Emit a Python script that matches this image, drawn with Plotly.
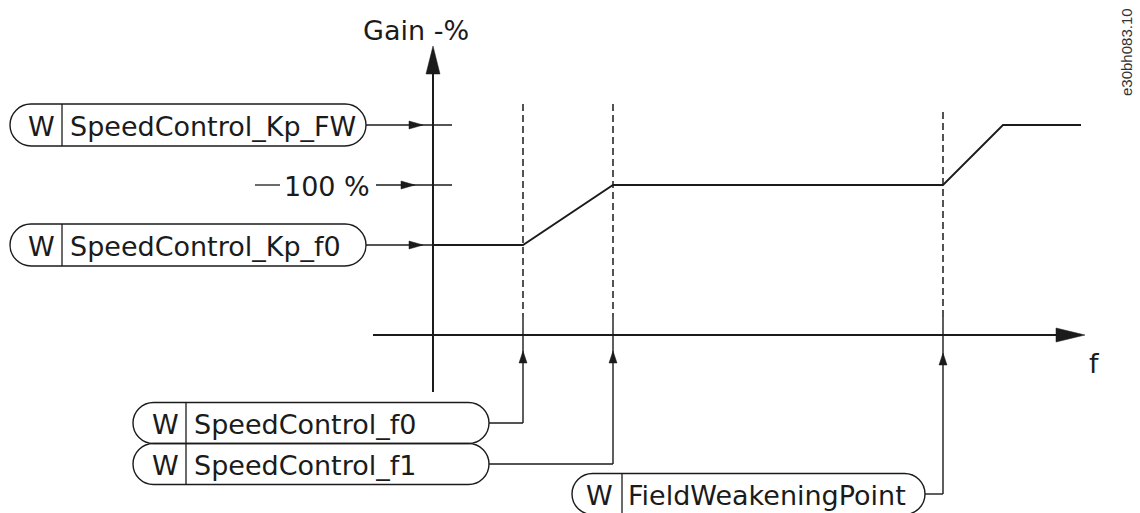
import plotly.graph_objects as go

# ---------------- data ----------------
f_knots = [0, 15, 30, 85, 95, 108]            # frequency (arbitrary units)
gain_knots = [60, 60, 100, 100, 140, 140]     # gain in %

level_labels = ["SpeedControl_Kp_FW", "100 %", "SpeedControl_Kp_f0"]
level_values = [140, 100, 60]

freq_labels = ["SpeedControl_f0", "SpeedControl_f1", "FieldWeakeningPoint"]
freq_values = [15, 30, 85]

axis_title_y = "Gain -%"
axis_title_x = "f"
doc_code = "e30bh083.10"

# ---------------- scale (pixels <-> data) ----------------
W, H = 1140, 513
X0, Y0 = 433, 335          # pixel position of origin (f=0, gain=0)
PXF, PXG = 6.0, 1.5        # pixels per data unit

def fx(px):
    return (px - X0) / PXF

def gy(py):
    return (Y0 - py) / PXG

def xpx(f):
    return X0 + f * PXF

def ypx(g):
    return Y0 - g * PXG

INK = "#1b1b1b"
FONT = "DejaVu Sans"
FS = 27

shapes = []
annotations = []

def line_px(x0, y0, x1, y1, width=1.4, dash=None):
    ln = dict(color=INK, width=width)
    if dash:
        ln["dash"] = dash
    shapes.append(dict(type="line", xref="x", yref="y",
                       x0=fx(x0), y0=gy(y0), x1=fx(x1), y1=gy(y1), line=ln,
                       layer="above"))

def poly_px(pts):
    d = "M " + " L ".join(f"{fx(px):.4f},{gy(py):.4f}" for px, py in pts) + " Z"
    shapes.append(dict(type="path", xref="x", yref="y", path=d,
                       fillcolor=INK, line=dict(color=INK, width=0.5),
                       layer="above"))

def arrow_right(tip_x, y, length=14, half=4):
    poly_px([(tip_x, y), (tip_x - length, y - half), (tip_x - length, y + half)])

def arrow_up(x, tip_y, length=12, half=4):
    poly_px([(x, tip_y), (x - half, tip_y + length), (x + half, tip_y + length)])

def pill(left, right, cy, h, wtext, label, div_off, w_off, txt_gap):
    top, bot = cy - h / 2, cy + h / 2
    r = h / 2
    k = 0.5523 * r
    P = lambda px, py: f"{fx(px):.4f},{gy(py):.4f}"
    d = (f"M {P(left + r, top)} L {P(right - r, top)} "
         f"C {P(right - r + k, top)} {P(right, cy - k)} {P(right, cy)} "
         f"C {P(right, cy + k)} {P(right - r + k, bot)} {P(right - r, bot)} "
         f"L {P(left + r, bot)} "
         f"C {P(left + r - k, bot)} {P(left, cy + k)} {P(left, cy)} "
         f"C {P(left, cy - k)} {P(left + r - k, top)} {P(left + r, top)} Z")
    shapes.append(dict(type="path", xref="x", yref="y", path=d,
                       fillcolor="rgba(0,0,0,0)", line=dict(color=INK, width=1.4),
                       layer="above"))
    line_px(left + div_off, top, left + div_off, bot, width=1.3)
    annotations.append(dict(x=fx(left + w_off), y=gy(cy + 1), xref="x", yref="y",
                            text=wtext, showarrow=False, xanchor="center",
                            yanchor="middle", font=dict(family=FONT, size=FS, color=INK)))
    annotations.append(dict(x=fx(left + div_off + txt_gap), y=gy(cy + 1), xref="x", yref="y",
                            text=label, showarrow=False, xanchor="left",
                            yanchor="middle", font=dict(family=FONT, size=FS, color=INK)))

# ---------------- axes ----------------
line_px(X0, 392, X0, 73, width=2)
poly_px([(X0, 46), (X0 - 7, 74), (X0 + 7, 74)])
line_px(373, Y0, 1057, Y0, width=2)
poly_px([(1085, Y0), (1056, Y0 - 7), (1056, Y0 + 7)])

annotations.append(dict(x=fx(416), y=gy(30), xref="x", yref="y", text=axis_title_y,
                        showarrow=False, font=dict(family=FONT, size=FS, color=INK)))
annotations.append(dict(x=fx(1094), y=gy(363), xref="x", yref="y", text=axis_title_x,
                        showarrow=False, font=dict(family=FONT, size=FS, color=INK)))
annotations.append(dict(x=fx(1126), y=gy(52), xref="x", yref="y", text=doc_code,
                        textangle=-90, showarrow=False,
                        font=dict(family="Liberation Sans", size=15, color="#333")))

# ---------------- level inputs (left) ----------------
pill_left, pill_right = 10, 366
for lab, val in zip(level_labels, level_values):
    y = ypx(val)
    if lab.startswith("100"):
        line_px(255, y, 280, y, width=1.3)
        annotations.append(dict(x=fx(327), y=gy(y + 1), xref="x", yref="y", text=lab,
                                showarrow=False, font=dict(family=FONT, size=FS, color=INK)))
        line_px(376, y, 452, y, width=1.4)
        arrow_right(415, y)
    else:
        pill(pill_left, pill_right, y, 42, "W", lab, 52, 31, 6)
        end = 452 if val > 100 else X0
        line_px(pill_right, y, end, y, width=1.4)
        arrow_right(423, y)

# ---------------- frequency inputs (bottom) ----------------
freq_pills = [(133, 489, 423), (133, 489, 464), (572, 925, 494)]
dash_tops = [104, 104, 112]
arrow_tips = [351, 351, 353]
for lab, val, (pl, pr, cy), dtop, tip in zip(freq_labels, freq_values, freq_pills,
                                           dash_tops, arrow_tips):
    x = xpx(val)
    line_px(x, dtop, x, 317, width=1.5, dash="7px,4px")
    line_px(x, 317, x, cy, width=1.4)
    line_px(pr, cy, x, cy, width=1.4)
    arrow_up(x, tip)
    if lab == "FieldWeakeningPoint":
        pill(pl, pr, cy, 41, "W", lab, 50, 27, 4)
    else:
        pill(pl, pr, cy, 41, "W", lab, 53, 32, 6)

# ---------------- gain curve ----------------
fig = go.Figure()
fig.add_trace(go.Scatter(x=f_knots, y=gain_knots, mode="lines",
                         line=dict(color=INK, width=1.8), hoverinfo="skip"))

fig.update_layout(
    width=W, height=H, margin=dict(l=0, r=0, t=0, b=0),
    paper_bgcolor="white", plot_bgcolor="white", showlegend=False,
    xaxis=dict(range=[fx(0), fx(W)], visible=False, fixedrange=True),
    yaxis=dict(range=[gy(H), gy(0)], visible=False, fixedrange=True),
    shapes=shapes, annotations=annotations,
)

fig.write_html("out.html", config={"displayModeBar": False},
               post_script="document.body.style.margin='0';document.body.style.overflow='hidden';")
